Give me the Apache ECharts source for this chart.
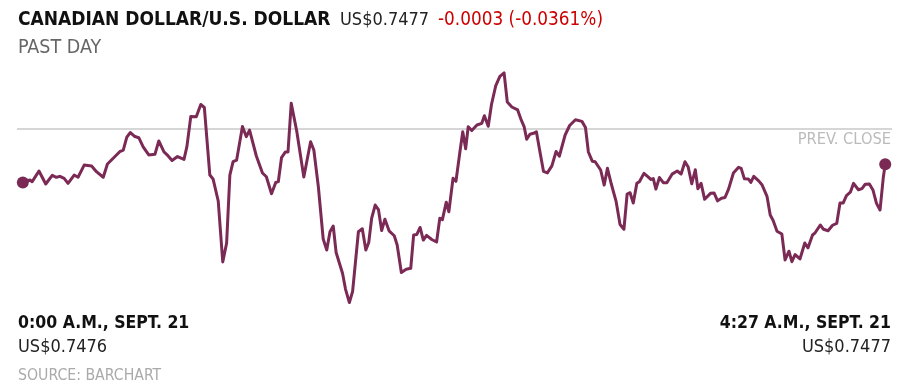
<!DOCTYPE html>
<html>
<head>
<meta charset="utf-8">
<script src="https://cdn.jsdelivr.net/npm/echarts@6/dist/echarts.min.js"></script>
<style>
html,body{margin:0;padding:0;background:#fff;}
#chart{width:916px;height:390px;}
</style>
</head>
<body>
<div id="chart"></div>
<script>
// minutes after 0:00 A.M., Sept. 21
var minutes = [
0.0,2.2,2.9,5.0,7.1,9.1,10.4,11.5,12.8,14.0,
15.9,17.1,19.0,21.3,22.8,24.9,26.2,28.3,30.0,31.1,
32.2,33.3,34.7,35.9,37.3,39.0,40.9,42.1,43.7,44.6,
46.2,47.9,49.9,50.8,52.0,53.7,55.1,56.2,57.9,58.9,
60.5,61.9,63.1,64.1,65.1,66.2,68.0,69.2,70.2,72.3,
74.2,75.4,77.0,78.3,79.1,80.1,81.3,82.1,83.1,84.8,
87.0,89.1,90.1,91.5,93.0,94.1,95.1,96.1,97.0,99.0,
99.9,101.1,102.1,103.9,105.1,106.2,107.1,108.0,109.1,110.1,
111.1,112.1,113.4,115.0,115.9,117.2,118.7,120.1,121.0,122.0,
123.0,124.0,125.0,126.6,128.1,129.1,129.9,131.1,131.9,133.2,
134.1,135.3,136.2,137.1,137.9,139.0,140.6,142.1,142.9,144.1,
145.1,146.4,147.7,149.0,150.0,151.4,153.2,154.2,155.2,156.0,
157.0,158.1,159.0,160.1,161.2,162.4,163.8,165.1,166.1,167.9,
169.3,171.1,173.1,174.2,175.1,176.3,177.2,178.9,180.0,181.0,
182.2,183.7,184.9,186.1,187.1,188.0,189.0,190.1,190.9,192.3,
193.4,194.5,195.2,196.0,197.1,198.3,199.4,201.0,202.6,203.8,
205.0,206.0,207.1,208.2,209.0,210.0,211.1,212.9,214.0,215.1,
216.3,217.4,218.5,220.0,221.6,222.4,223.4,224.6,225.4,226.3,
227.9,228.9,230.4,231.4,232.3,233.5,235.0,236.0,237.2,238.1,
239.1,240.6,242.1,243.1,244.5,245.3,246.9,247.9,249.3,250.7,
252.0,253.0,254.0,255.0,256.2,257.2,258.7,259.8,260.8,262.1,
263.2,264.3,265.4,266.4,267.0
];
// CAD/USD price
var prices = [
0.747598,0.747617,0.747604,0.747686,0.747586,0.747653,0.747638,0.747645,0.747630,0.747591,
0.747655,0.747638,0.747732,0.747725,0.747681,0.747638,0.747740,0.747792,0.747835,0.747848,
0.747948,0.747983,0.747952,0.747943,0.747871,0.747810,0.747815,0.747918,0.747833,0.747813,
0.747767,0.747798,0.747776,0.747874,0.748106,0.748105,0.748199,0.748176,0.747655,0.747625,
0.747455,0.746985,0.747131,0.747655,0.747758,0.747771,0.748029,0.747951,0.748002,0.747802,
0.747671,0.747642,0.747511,0.747598,0.747604,0.747790,0.747833,0.747833,0.748208,0.747995,
0.747640,0.747912,0.747848,0.747565,0.747162,0.747077,0.747218,0.747262,0.747058,0.746896,
0.746776,0.746672,0.746757,0.747218,0.747241,0.747077,0.747135,0.747322,0.747424,0.747389,
0.747227,0.747315,0.747225,0.747187,0.747116,0.746904,0.746929,0.746936,0.747193,0.747197,
0.747251,0.747154,0.747190,0.747158,0.747139,0.747322,0.747311,0.747446,0.747372,0.747630,
0.747607,0.747829,0.747989,0.747858,0.748028,0.747998,0.748041,0.748054,0.748112,0.748031,
0.748199,0.748342,0.748416,0.748443,0.748218,0.748180,0.748157,0.748087,0.748029,0.747931,
0.747970,0.747977,0.747989,0.747835,0.747684,0.747672,0.747726,0.747837,0.747800,0.747964,
0.748037,0.748082,0.748069,0.748022,0.747833,0.747762,0.747758,0.747694,0.747578,0.747707,
0.747586,0.747450,0.747274,0.747237,0.747509,0.747519,0.747440,0.747591,0.747604,0.747668,
0.747644,0.747621,0.747628,0.747547,0.747636,0.747596,0.747596,0.747662,0.747686,0.747663,
0.747758,0.747717,0.747588,0.747696,0.747549,0.747591,0.747468,0.747514,0.747517,0.747456,
0.747476,0.747482,0.747547,0.747671,0.747715,0.747707,0.747626,0.747625,0.747598,0.747645,
0.747608,0.747578,0.747491,0.747347,0.747305,0.747222,0.747200,0.747000,0.747068,0.746987,
0.747042,0.747008,0.747131,0.747094,0.747193,0.747210,0.747270,0.747237,0.747226,0.747268,
0.747283,0.747440,0.747440,0.747497,0.747523,0.747591,0.747542,0.747551,0.747584,0.747586,
0.747540,0.747437,0.747386,0.747636,0.747738
];
var prevClose = 0.74801;
var xMin = -1.8, xMax = 269.1;
var titleText = 'CANADIAN DOLLAR/U.S. DOLLAR';
var lastPriceText = 'US$0.7477';
var changeText = '-0.0003 (-0.0361%)';
var subtitleText = 'PAST DAY';
var startLabel = '0:00 A.M., SEPT. 21';
var startPrice = 'US$0.7476';
var endLabel = '4:27 A.M., SEPT. 21';
var endPrice = 'US$0.7477';
var sourceText = 'SOURCE: BARCHART';
var prevCloseText = 'PREV. CLOSE';

var FONT = '"DejaVu Sans Condensed", "DejaVu Sans", sans-serif';
var LINE = '#7b2a55';

var lineData = minutes.map(function (m, i) { return [m, prices[i]]; });
var n = minutes.length - 1;
var endPoints = [[minutes[0], prices[0]], [minutes[n], prices[n]]];
var prevCloseData = [[xMin, prevClose], [xMax, prevClose]];

function txt(x, y, s, size, weight, color, align) {
  return {
    type: 'text', x: x, y: y, silent: true,
    style: {
      text: s, fill: color, fontFamily: FONT, fontSize: size,
      fontWeight: weight, textAlign: align || 'left', textVerticalAlign: 'middle'
    }
  };
}

var chart = echarts.init(document.getElementById('chart'), null, {renderer: 'canvas'});
chart.setOption({
  animation: false,
  backgroundColor: '#fff',
  grid: {left: 17, right: 24, top: 52.5, height: 259.4},
  xAxis: {type: 'value', min: xMin, max: xMax, show: false},
  yAxis: {type: 'value', min: 0.7466, max: 0.7486, show: false, scale: true},
  series: [
    {
      type: 'line',
      data: prevCloseData,
      showSymbol: false,
      silent: true,
      lineStyle: {color: '#c8c8c8', width: 1.5},
      z: 1
    },
    {
      type: 'line',
      data: lineData,
      showSymbol: false,
      lineStyle: {color: LINE, width: 3, join: 'round', cap: 'round'},
      z: 3
    },
    {
      type: 'scatter',
      data: endPoints,
      symbolSize: 12,
      itemStyle: {color: LINE, opacity: 1},
      z: 4
    }
  ],
  graphic: [
    txt(18, 20, titleText, 19, 'bold', '#111'),
    txt(340, 20, lastPriceText, 18, 'normal', '#222'),
    txt(438, 20, changeText, 18.8, 'normal', '#cc0000'),
    txt(18, 48, subtitleText, 19.5, 'normal', '#666'),
    txt(891, 139.5, prevCloseText, 16.3, 'normal', '#bbbbbb', 'right'),
    txt(18, 323, startLabel, 17.5, 'bold', '#111'),
    txt(18, 347, startPrice, 18, 'normal', '#222'),
    txt(891, 323, endLabel, 17.5, 'bold', '#111', 'right'),
    txt(891, 347, endPrice, 18, 'normal', '#222', 'right'),
    txt(18, 376, sourceText, 15.7, 'normal', '#aaaaaa')
  ]
});
</script>
</body>
</html>
